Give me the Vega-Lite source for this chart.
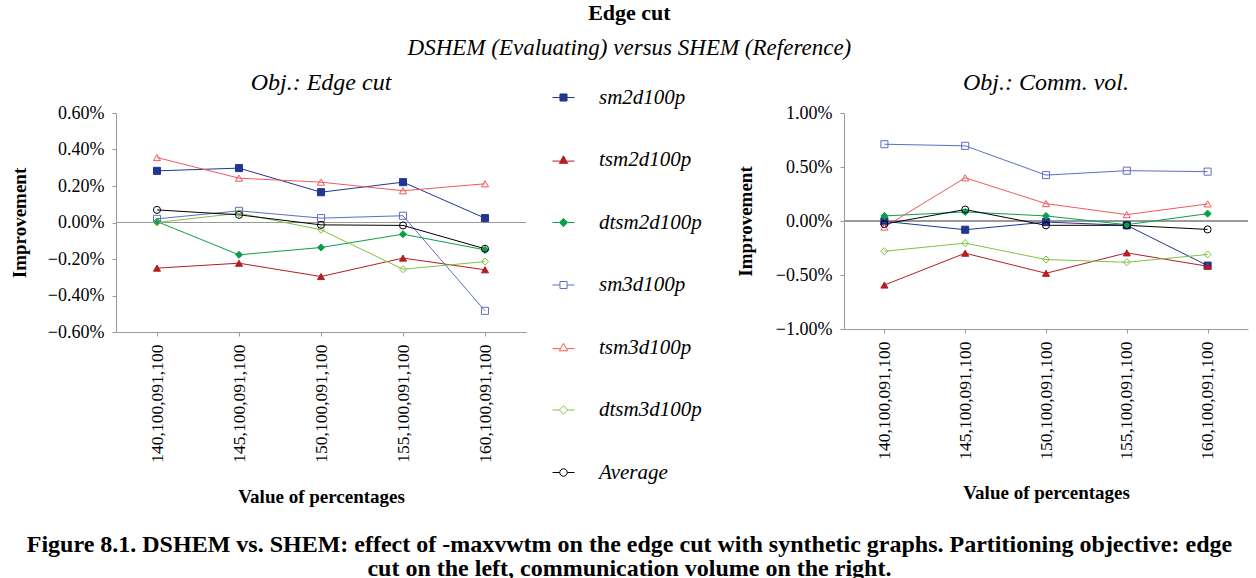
{
  "$schema": "https://vega.github.io/schema/vega-lite/v6.json",
  "padding": {"left": 10, "top": 2, "right": 0, "bottom": 0},
  "background": "white",
  "datasets": {
    "edgecut": [
      {"pct": "140,100,091,100", "series": "sm2d100p", "value": 0.283},
      {"pct": "145,100,091,100", "series": "sm2d100p", "value": 0.298},
      {"pct": "150,100,091,100", "series": "sm2d100p", "value": 0.166},
      {"pct": "155,100,091,100", "series": "sm2d100p", "value": 0.221},
      {"pct": "160,100,091,100", "series": "sm2d100p", "value": 0.024},
      {"pct": "140,100,091,100", "series": "tsm2d100p", "value": -0.250},
      {"pct": "145,100,091,100", "series": "tsm2d100p", "value": -0.223},
      {"pct": "150,100,091,100", "series": "tsm2d100p", "value": -0.296},
      {"pct": "155,100,091,100", "series": "tsm2d100p", "value": -0.195},
      {"pct": "160,100,091,100", "series": "tsm2d100p", "value": -0.259},
      {"pct": "140,100,091,100", "series": "dtsm2d100p", "value": 0.005},
      {"pct": "145,100,091,100", "series": "dtsm2d100p", "value": -0.177},
      {"pct": "150,100,091,100", "series": "dtsm2d100p", "value": -0.137},
      {"pct": "155,100,091,100", "series": "dtsm2d100p", "value": -0.064},
      {"pct": "160,100,091,100", "series": "dtsm2d100p", "value": -0.150},
      {"pct": "140,100,091,100", "series": "sm3d100p", "value": 0.020},
      {"pct": "145,100,091,100", "series": "sm3d100p", "value": 0.064},
      {"pct": "150,100,091,100", "series": "sm3d100p", "value": 0.024},
      {"pct": "155,100,091,100", "series": "sm3d100p", "value": 0.037},
      {"pct": "160,100,091,100", "series": "sm3d100p", "value": -0.484},
      {"pct": "140,100,091,100", "series": "tsm3d100p", "value": 0.356},
      {"pct": "145,100,091,100", "series": "tsm3d100p", "value": 0.243},
      {"pct": "150,100,091,100", "series": "tsm3d100p", "value": 0.221},
      {"pct": "155,100,091,100", "series": "tsm3d100p", "value": 0.174},
      {"pct": "160,100,091,100", "series": "tsm3d100p", "value": 0.212},
      {"pct": "140,100,091,100", "series": "dtsm3d100p", "value": 0.000},
      {"pct": "145,100,091,100", "series": "dtsm3d100p", "value": 0.051},
      {"pct": "150,100,091,100", "series": "dtsm3d100p", "value": -0.040},
      {"pct": "155,100,091,100", "series": "dtsm3d100p", "value": -0.256},
      {"pct": "160,100,091,100", "series": "dtsm3d100p", "value": -0.214},
      {"pct": "140,100,091,100", "series": "Average", "value": 0.069},
      {"pct": "145,100,091,100", "series": "Average", "value": 0.042},
      {"pct": "150,100,091,100", "series": "Average", "value": -0.013},
      {"pct": "155,100,091,100", "series": "Average", "value": -0.016},
      {"pct": "160,100,091,100", "series": "Average", "value": -0.144}
    ],
    "commvol": [
      {"pct": "140,100,091,100", "series": "sm2d100p", "value": -0.003},
      {"pct": "145,100,091,100", "series": "sm2d100p", "value": -0.081},
      {"pct": "150,100,091,100", "series": "sm2d100p", "value": -0.010},
      {"pct": "155,100,091,100", "series": "sm2d100p", "value": -0.040},
      {"pct": "160,100,091,100", "series": "sm2d100p", "value": -0.413},
      {"pct": "140,100,091,100", "series": "tsm2d100p", "value": -0.593},
      {"pct": "145,100,091,100", "series": "tsm2d100p", "value": -0.298},
      {"pct": "150,100,091,100", "series": "tsm2d100p", "value": -0.484},
      {"pct": "155,100,091,100", "series": "tsm2d100p", "value": -0.295},
      {"pct": "160,100,091,100", "series": "tsm2d100p", "value": -0.419},
      {"pct": "140,100,091,100", "series": "dtsm2d100p", "value": 0.047},
      {"pct": "145,100,091,100", "series": "dtsm2d100p", "value": 0.084},
      {"pct": "150,100,091,100", "series": "dtsm2d100p", "value": 0.047},
      {"pct": "155,100,091,100", "series": "dtsm2d100p", "value": -0.034},
      {"pct": "160,100,091,100", "series": "dtsm2d100p", "value": 0.068},
      {"pct": "140,100,091,100", "series": "sm3d100p", "value": 0.711},
      {"pct": "145,100,091,100", "series": "sm3d100p", "value": 0.696},
      {"pct": "150,100,091,100", "series": "sm3d100p", "value": 0.425},
      {"pct": "155,100,091,100", "series": "sm3d100p", "value": 0.466},
      {"pct": "160,100,091,100", "series": "sm3d100p", "value": 0.457},
      {"pct": "140,100,091,100", "series": "tsm3d100p", "value": -0.056},
      {"pct": "145,100,091,100", "series": "tsm3d100p", "value": 0.400},
      {"pct": "150,100,091,100", "series": "tsm3d100p", "value": 0.161},
      {"pct": "155,100,091,100", "series": "tsm3d100p", "value": 0.059},
      {"pct": "160,100,091,100", "series": "tsm3d100p", "value": 0.158},
      {"pct": "140,100,091,100", "series": "dtsm3d100p", "value": -0.280},
      {"pct": "145,100,091,100", "series": "dtsm3d100p", "value": -0.205},
      {"pct": "150,100,091,100", "series": "dtsm3d100p", "value": -0.357},
      {"pct": "155,100,091,100", "series": "dtsm3d100p", "value": -0.382},
      {"pct": "160,100,091,100", "series": "dtsm3d100p", "value": -0.310},
      {"pct": "140,100,091,100", "series": "Average", "value": -0.028},
      {"pct": "145,100,091,100", "series": "Average", "value": 0.106},
      {"pct": "150,100,091,100", "series": "Average", "value": -0.040},
      {"pct": "155,100,091,100", "series": "Average", "value": -0.040},
      {"pct": "160,100,091,100", "series": "Average", "value": -0.078}
    ]
  },
  "title": {
    "text": ["Figure 8.1.  DSHEM vs. SHEM: effect of -maxvwtm on the edge cut with synthetic graphs. Partitioning objective: edge", "cut on the left, communication volume on the right."],
    "orient": "bottom",
    "anchor": "middle",
    "font": "Times New Roman",
    "fontSize": 24,
    "fontWeight": "bold",
    "color": "black",
    "lineHeight": 24,
    "offset": 27
  },
  "vconcat": [
    {
      "title": {
        "text": "Edge cut",
        "subtitle": "DSHEM (Evaluating) versus SHEM (Reference)",
        "anchor": "middle",
        "font": "Times New Roman",
        "fontSize": 22,
        "fontWeight": "bold",
        "color": "black",
        "subtitleFont": "Times New Roman",
        "subtitleFontSize": 23,
        "subtitleFontStyle": "italic",
        "subtitleColor": "black",
        "subtitlePadding": 12,
        "offset": 10
      },
      "spacing": 34,
      "resolve": {"scale": {"stroke": "independent", "fill": "independent", "shape": "independent"}, "legend": {"stroke": "independent", "fill": "independent", "shape": "independent"}},
      "hconcat": [
        {
          "data": {"name": "edgecut"},
          "width": 410,
          "height": 219,
          "title": {"text": "Obj.: Edge cut", "font": "Times New Roman", "fontSize": 24, "fontStyle": "italic", "fontWeight": "normal", "color": "black", "anchor": "middle", "offset": -9},
          "resolve": {"scale": {"stroke": "independent", "fill": "independent", "shape": "independent"}, "legend": {"stroke": "independent", "fill": "independent", "shape": "independent"}},
          "encoding": {
            "x": {"field": "pct", "type": "ordinal", "scale": {"type": "point", "padding": 0.5},
              "axis": {"title": "Value of percentages", "labelAngle": -90, "titlePadding": 25}},
            "y": {"field": "value", "type": "quantitative", "scale": {"domain": [-0.6, 0.6], "nice": false, "zero": false},
              "axis": {"title": "Improvement", "values": [-0.6, -0.4, -0.2, 0, 0.2, 0.4, 0.6], "labelExpr": "format(datum.value, '.2f') + '%'", "titlePadding": 18, "labelFontSize": 18}}
          },
          "layer": [
            {"mark": {"type": "rule", "color": "#999999", "strokeWidth": 1}, "encoding": {"y": {"datum": 0}, "x": {"value": 0}, "x2": {"value": 410}}},
            {"mark": {"type": "line", "strokeWidth": 1},
              "encoding": {"stroke": {"field": "series", "type": "nominal", "scale": {"domain": ["sm2d100p", "tsm2d100p", "dtsm2d100p", "sm3d100p", "tsm3d100p", "dtsm3d100p", "Average"], "range": ["#22358f", "#b21f24", "#0c9f48", "#5d6fc4", "#f2585a", "#7dc242", "#000000"]}, "legend": null}}},
            {"mark": {"type": "point", "size": 50, "strokeWidth": 1, "opacity": 1, "filled": false},
              "encoding": {
                "stroke": {"field": "series", "type": "nominal", "scale": {"domain": ["sm2d100p", "tsm2d100p", "dtsm2d100p", "sm3d100p", "tsm3d100p", "dtsm3d100p", "Average"], "range": ["#22358f", "#b21f24", "#0c9f48", "#5d6fc4", "#f2585a", "#7dc242", "#000000"]}, "legend": null},
                "fill": {"field": "series", "type": "nominal", "scale": {"domain": ["sm2d100p", "tsm2d100p", "dtsm2d100p", "sm3d100p", "tsm3d100p", "dtsm3d100p", "Average"], "range": ["#22358f", "#b21f24", "#0c9f48", "transparent", "transparent", "transparent", "transparent"]}, "legend": null},
                "shape": {"field": "series", "type": "nominal", "scale": {"domain": ["sm2d100p", "tsm2d100p", "dtsm2d100p", "sm3d100p", "tsm3d100p", "dtsm3d100p", "Average"], "range": ["square", "triangle-up", "diamond", "square", "triangle-up", "diamond", "circle"]}, "legend": null}
              }},
            {"mark": {"type": "point", "size": 50, "strokeWidth": 1, "opacity": 0, "filled": false},
              "encoding": {
                "stroke": {"field": "series", "type": "nominal", "scale": {"domain": ["sm2d100p", "tsm2d100p", "dtsm2d100p", "sm3d100p", "tsm3d100p", "dtsm3d100p", "Average"], "range": ["#22358f", "#b21f24", "#0c9f48", "#5d6fc4", "#f2585a", "#7dc242", "#000000"]}},
                "fill": {"field": "series", "type": "nominal", "scale": {"domain": ["sm2d100p", "tsm2d100p", "dtsm2d100p", "sm3d100p", "tsm3d100p", "dtsm3d100p", "Average"], "range": ["#22358f", "#b21f24", "#0c9f48", "transparent", "transparent", "transparent", "transparent"]}},
                "shape": {"field": "series", "type": "nominal", "scale": {"domain": ["sm2d100p", "tsm2d100p", "dtsm2d100p", "sm3d100p", "tsm3d100p", "dtsm3d100p", "Average"], "range": [
                  "M-1,0H-0.32M0.32,0H1M-0.32,-0.32H0.32V0.32H-0.32Z",
                  "M-1,0.1H-0.33M0.33,0.1H1M0,-0.38L0.38,0.3H-0.38Z",
                  "M-1,0H-0.38M0.38,0H1M0,-0.38L0.38,0L0,0.38L-0.38,0Z",
                  "M-1,0H-0.32M0.32,0H1M-0.32,-0.32H0.32V0.32H-0.32Z",
                  "M-1,0.1H-0.33M0.33,0.1H1M0,-0.38L0.38,0.3H-0.38Z",
                  "M-1,0H-0.38M0.38,0H1M0,-0.38L0.38,0L0,0.38L-0.38,0Z",
                  "M-1,0H-0.34M0.34,0H1M0.34,0A0.34,0.34 0 1 1 -0.34,0A0.34,0.34 0 1 1 0.34,0Z"]}}
              }}
          ]
        },
        {
          "data": {"name": "commvol"},
          "width": 404,
          "height": 216,
          "title": {"text": "Obj.: Comm. vol.", "font": "Times New Roman", "fontSize": 24, "fontStyle": "italic", "fontWeight": "normal", "color": "black", "anchor": "middle", "offset": 9},
          "encoding": {
            "x": {"field": "pct", "type": "ordinal", "scale": {"type": "point", "padding": 0.5},
              "axis": {"title": "Value of percentages", "labelAngle": -90, "titlePadding": 24}},
            "y": {"field": "value", "type": "quantitative", "scale": {"domain": [-1, 1], "nice": false, "zero": false},
              "axis": {"title": "Improvement", "values": [-1, -0.5, 0, 0.5, 1], "labelExpr": "format(datum.value, '.2f') + '%'", "titlePadding": 20, "labelFontSize": 18}}
          },
          "layer": [
            {"mark": {"type": "rule", "color": "#999999", "strokeWidth": 1}, "encoding": {"y": {"datum": 0}, "x": {"value": 0}, "x2": {"value": 404}}},
            {"mark": {"type": "line", "strokeWidth": 1},
              "encoding": {"stroke": {"field": "series", "type": "nominal", "scale": {"domain": ["sm2d100p", "tsm2d100p", "dtsm2d100p", "sm3d100p", "tsm3d100p", "dtsm3d100p", "Average"], "range": ["#22358f", "#b21f24", "#0c9f48", "#5d6fc4", "#f2585a", "#7dc242", "#000000"]}, "legend": null}}},
            {"mark": {"type": "point", "size": 50, "strokeWidth": 1, "opacity": 1, "filled": false},
              "encoding": {
                "stroke": {"field": "series", "type": "nominal", "scale": {"domain": ["sm2d100p", "tsm2d100p", "dtsm2d100p", "sm3d100p", "tsm3d100p", "dtsm3d100p", "Average"], "range": ["#22358f", "#b21f24", "#0c9f48", "#5d6fc4", "#f2585a", "#7dc242", "#000000"]}, "legend": null},
                "fill": {"field": "series", "type": "nominal", "scale": {"domain": ["sm2d100p", "tsm2d100p", "dtsm2d100p", "sm3d100p", "tsm3d100p", "dtsm3d100p", "Average"], "range": ["#22358f", "#b21f24", "#0c9f48", "transparent", "transparent", "transparent", "transparent"]}, "legend": null},
                "shape": {"field": "series", "type": "nominal", "scale": {"domain": ["sm2d100p", "tsm2d100p", "dtsm2d100p", "sm3d100p", "tsm3d100p", "dtsm3d100p", "Average"], "range": ["square", "triangle-up", "diamond", "square", "triangle-up", "diamond", "circle"]}, "legend": null}
              }}
          ]
        }
      ]
    }
  ],
  "config": {
    "view": {"stroke": null},
    "font": "Times New Roman",
    "legend": {
      "orient": "none",
      "legendX": 436,
      "legendY": -27,
      "title": null,
      "symbolSize": 484,
      "symbolStrokeWidth": 1,
      "symbolOpacity": 1,
      "rowPadding": 40.5,
      "labelOffset": 24,
      "labelFont": "Times New Roman",
      "labelFontSize": 21,
      "labelFontStyle": "italic",
      "labelColor": "black",
      "labelLimit": 200
    },
    "axis": {
      "labelFont": "Times New Roman", "labelFontSize": 17.5, "labelColor": "black",
      "titleFont": "Times New Roman", "titleFontSize": 19, "titleFontWeight": "bold", "titleColor": "black",
      "domainColor": "#999999", "tickColor": "#999999", "tickSize": 4, "labelPadding": 8, "grid": false
    }
  }
}
